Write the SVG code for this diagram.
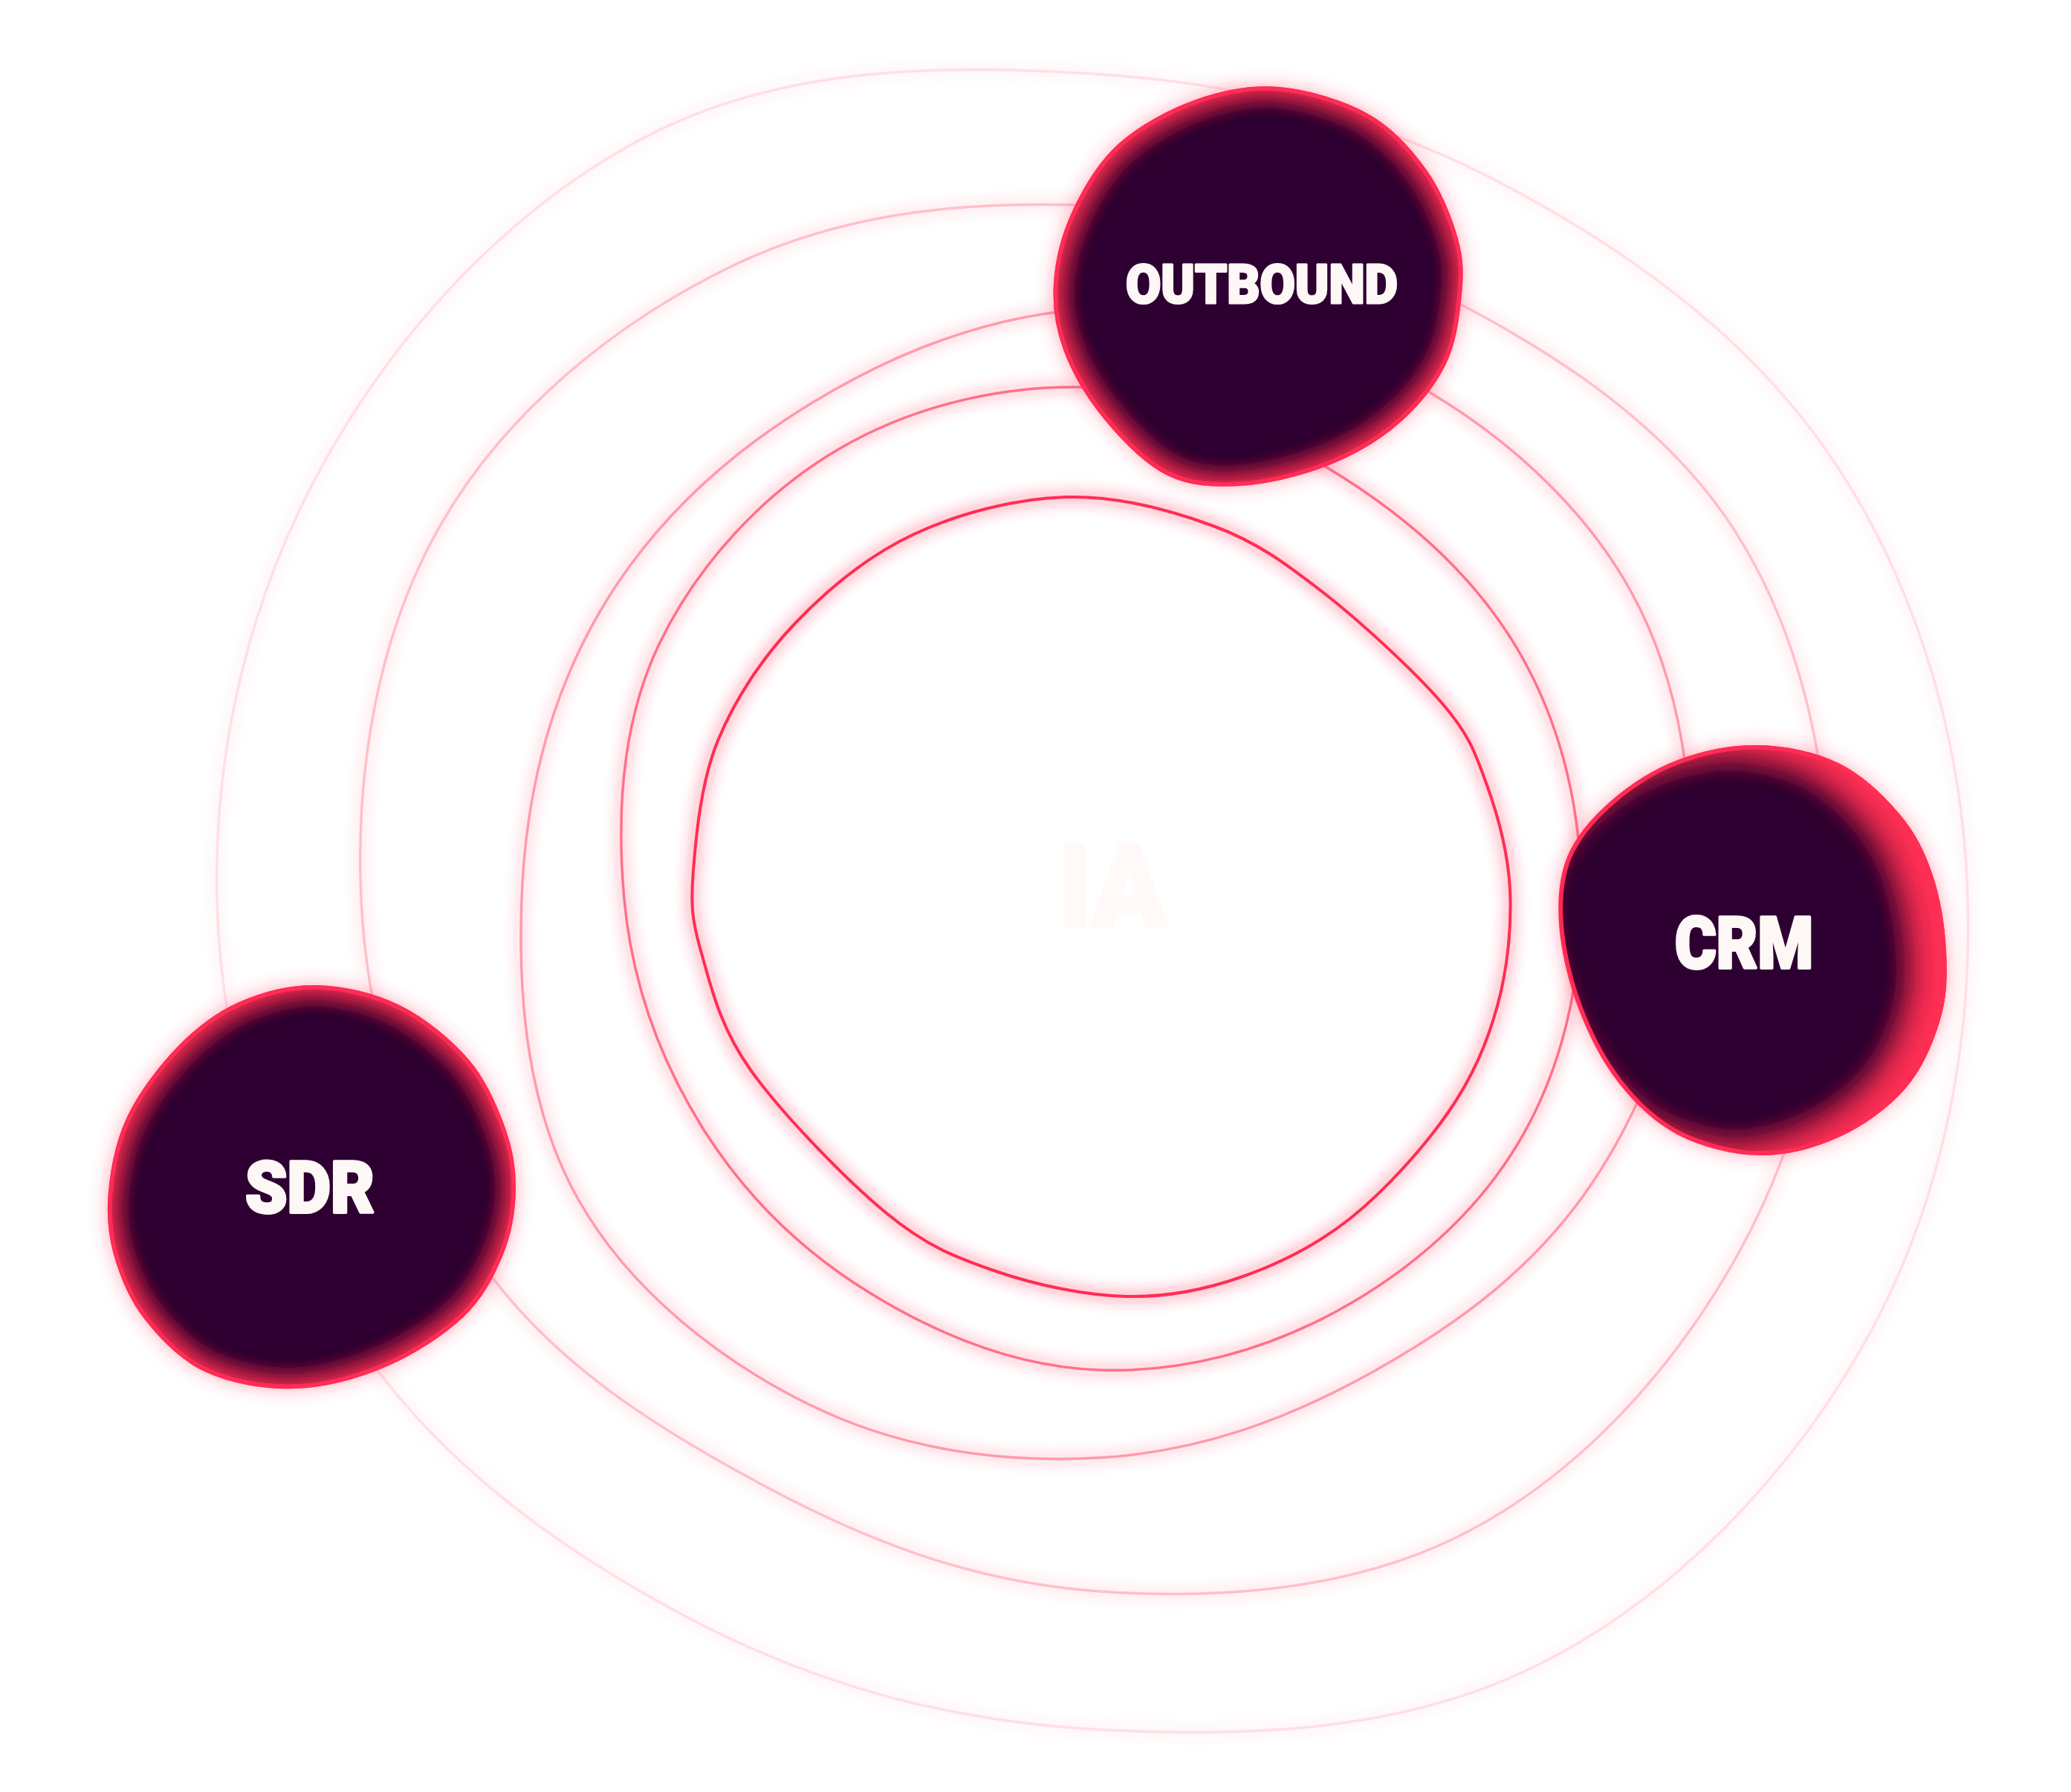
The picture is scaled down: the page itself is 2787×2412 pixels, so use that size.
<svg xmlns="http://www.w3.org/2000/svg" xmlns:xlink="http://www.w3.org/1999/xlink" width="2787" height="2412" viewBox="0 0 2787 2412">
<style>
.line{fill:none;stroke:#ff2d55;stroke-width:3.5}
.halo{fill:none;stroke:#ff2d55;stroke-width:22;stroke-opacity:0.26;filter:url(#blur8)}
.nglow{fill:#ff2d55;opacity:0.5;filter:url(#blur14)}
.nbody{fill:#2d0030;stroke:#ff2d55;stroke-width:6}
.lbl{font-family:Roboto,"Liberation Sans",sans-serif;font-weight:900;fill:#fdf8f6;stroke:#fdf8f6;stroke-width:4;stroke-linejoin:round;text-anchor:middle}
</style>
<defs>
<filter id="blur8" filterUnits="userSpaceOnUse" x="0" y="0" width="2787" height="2412"><feGaussianBlur stdDeviation="8"/></filter>
<filter id="blur14" x="-25%" y="-25%" width="150%" height="150%"><feGaussianBlur stdDeviation="14"/></filter>
<filter id="inner" x="-20%" y="-20%" width="140%" height="140%">
<feMorphology in="SourceAlpha" operator="erode" radius="8" result="er"/>
<feFlood flood-color="#ff2d55" result="f"/>
<feComposite in="f" in2="er" operator="out" result="o"/>
<feGaussianBlur in="o" stdDeviation="14" result="ob"/>
<feComposite in="ob" in2="SourceAlpha" operator="in" result="ig"/>
<feMerge><feMergeNode in="SourceGraphic"/><feMergeNode in="ig"/></feMerge>
</filter>
<filter id="innerR" x="-20%" y="-20%" width="140%" height="140%">
<feMorphology in="SourceAlpha" operator="erode" radius="8" result="er"/>
<feFlood flood-color="#ff2d55" result="f"/>
<feComposite in="f" in2="er" operator="out" result="o"/>
<feOffset in="o" dx="-34" dy="0" result="oo"/>
<feGaussianBlur in="oo" stdDeviation="18" result="ob"/>
<feComposite in="ob" in2="SourceAlpha" operator="in" result="ig"/>
<feMerge><feMergeNode in="SourceGraphic"/><feMergeNode in="ig"/></feMerge>
</filter>
<path id="r1" d="M1435,669 C1502.2,667.2 1575.5,686.7 1633,708 C1690.5,729.3 1728.7,757.2 1780,797 C1831.3,836.8 1904.3,904.2 1941,947 C1977.7,989.8 1984.8,1012.3 2000,1054 C2015.2,1095.7 2029.5,1147 2032,1197 C2034.5,1247 2028.8,1304 2015,1354 C2001.2,1404 1982,1449.3 1949,1497 C1916,1544.7 1863.5,1603 1817,1640 C1770.5,1677 1720.2,1701.5 1670,1719 C1619.8,1736.5 1571,1746.3 1516,1745 C1461,1743.7 1393.8,1729.7 1340,1711 C1286.2,1692.3 1248,1678.2 1193,1633 C1138,1587.8 1051.5,1498.3 1010,1440 C968.5,1381.7 956.8,1327.7 944,1283 C931.2,1238.3 929.3,1219.7 933,1172 C936.7,1124.3 943.3,1052.3 966,997 C988.7,941.7 1025,886.3 1069,840 C1113,793.7 1169,747.5 1230,719 C1291,690.5 1367.8,670.8 1435,669 Z"/>
<path id="r2" d="M2128,1210 C2127.5,1324.7 2102.1,1438.8 2044.6,1536 C1987.1,1633.2 1899.1,1710.1 1800,1764.2 C1700.9,1818.3 1590,1848 1480,1844 C1370,1840 1266.7,1798.9 1173,1741.7 C1079.3,1684.5 1004.1,1611.9 945.7,1518.5 C887.3,1425.1 850.4,1324.2 840,1210 C829.6,1095.8 835.9,973.9 886.8,867.5 C937.7,761.1 1025.9,664.4 1130,603.8 C1234.1,543.2 1361.1,515.1 1480,522 C1598.9,528.9 1707.9,579.6 1807.5,642.8 C1907.1,706 1990.9,782.9 2047.2,882.5 C2103.5,982.1 2128.5,1095.3 2128,1210 Z"/>
<path id="r3" d="M2273,1210 C2263.8,1349.6 2217.2,1480.8 2142.5,1592.5 C2067.8,1704.2 1963.8,1781.7 1847.5,1846.5 C1731.2,1911.3 1613.4,1954.4 1480,1962 C1346.6,1969.6 1210.7,1950.8 1087.5,1889.8 C964.3,1828.8 846.2,1734.4 778.5,1615 C710.8,1495.6 696.8,1349.1 702,1210 C707.2,1070.9 739.2,939.3 808,822 C876.8,704.7 976,612.8 1094,541.4 C1212,470 1341.1,421.1 1480,415 C1618.9,408.9 1760.4,439.8 1886,506.8 C2011.6,573.8 2127.4,673.6 2195.3,797 C2263.2,920.4 2282.2,1070.4 2273,1210 Z"/>
<path id="r4" d="M2462,1210 C2461.3,1382.9 2417.2,1551.8 2331.3,1701.5 C2245.4,1851.2 2121.8,1985.7 1972.5,2063 C1823.2,2140.3 1646.3,2153.4 1480,2142 C1313.7,2130.6 1171.7,2076.9 1025,1998.1 C878.3,1919.3 738,1831.3 643.4,1693 C548.8,1554.7 494.1,1384.3 486,1210 C477.9,1035.7 508.7,849.7 596.7,700 C684.7,550.3 832.4,431.2 987.5,357 C1142.6,282.8 1311.6,269.4 1480,277 C1648.4,284.6 1797.3,323.2 1947.5,400.3 C2097.7,477.4 2245.3,573.9 2335.6,716 C2425.9,858.1 2462.7,1037.1 2462,1210 Z"/>
<path id="r5" d="M2648,1210 C2653.9,1415.5 2611.2,1624.5 2510.5,1805 C2409.8,1985.5 2254.9,2147 2074,2238.8 C1893.1,2330.6 1682,2339.1 1480,2328 C1278,2316.9 1099.6,2269.5 922.5,2175.6 C745.4,2081.7 581.8,1961.9 471.1,1792.5 C360.4,1623.1 297,1417.4 292,1210 C287,1002.6 338.7,792.4 442.5,611 C546.3,429.6 701.4,266.6 883.5,176.9 C1065.6,87.2 1278.3,86.7 1480,100 C1681.7,113.3 1857.5,159.3 2032.5,253 C2207.5,346.7 2368.9,466.6 2476.8,634.5 C2584.7,802.4 2642.1,1004.5 2648,1210 Z"/>
<path id="bOut" d="M1721,120 C1759.3,123.2 1807.3,137.7 1840,156 C1872.7,174.3 1897.2,202.3 1917,230 C1936.8,257.7 1951.2,294.3 1959,322 C1966.8,349.7 1966.7,368.2 1964,396 C1961.3,423.8 1957.3,460 1943,489 C1928.7,518 1904.7,547.3 1878,570 C1851.3,592.7 1818,611.5 1783,625 C1748,638.5 1703.2,649 1668,651 C1632.8,653 1602,651.8 1572,637 C1542,622.2 1511,589.8 1488,562 C1465,534.2 1445.2,500.2 1434,470 C1422.8,439.8 1419,411.8 1421,381 C1423,350.2 1431.7,315.8 1446,285 C1460.3,254.2 1479.7,220.7 1507,196 C1534.3,171.3 1574.3,149.7 1610,137 C1645.7,124.3 1682.7,116.8 1721,120 Z"/>
<path id="bCrm" d="M2366,1006 C2401.8,1006.7 2441.5,1014.5 2473,1030 C2504.5,1045.5 2534.2,1074.2 2555,1099 C2575.8,1123.8 2587.8,1148.7 2598,1179 C2608.2,1209.3 2614.3,1248.8 2616,1281 C2617.7,1313.2 2617,1341.7 2608,1372 C2599,1402.3 2584.5,1437 2562,1463 C2539.5,1489 2505.7,1513.2 2473,1528 C2440.3,1542.8 2401.8,1552.7 2366,1552 C2330.2,1551.3 2289,1540.2 2258,1524 C2227,1507.8 2202,1483.3 2180,1455 C2158,1426.7 2139.2,1389.2 2126,1354 C2112.8,1318.8 2103.3,1277.3 2101,1244 C2098.7,1210.7 2100.7,1181.2 2112,1154 C2123.3,1126.8 2144.7,1102.3 2169,1081 C2193.3,1059.7 2225.2,1038.5 2258,1026 C2290.8,1013.5 2330.2,1005.3 2366,1006 Z"/>
<path id="bSdr" d="M426,1329 C461.8,1329.7 503,1339.2 537,1356 C571,1372.8 606.5,1402.3 630,1430 C653.5,1457.7 667.8,1493.2 678,1522 C688.2,1550.8 691.7,1575.3 691,1603 C690.3,1630.7 685.5,1660.2 674,1688 C662.5,1715.8 648,1745.2 622,1770 C596,1794.8 555.7,1821 518,1837 C480.3,1853 436,1864.8 396,1866 C356,1867.2 311.2,1859.3 278,1844 C244.8,1828.7 217.3,1800 197,1774 C176.7,1748 164,1716.5 156,1688 C148,1659.5 146,1633.7 149,1603 C152,1572.3 158.7,1536 174,1504 C189.3,1472 216.3,1436.3 241,1411 C265.7,1385.7 291.2,1365.7 322,1352 C352.8,1338.3 390.2,1328.3 426,1329 Z"/>
</defs>
<rect width="2787" height="2412" fill="#ffffff"/>
<g id="connectors">
<g id="ring5" opacity="0.15"><use href="#r5" class="halo"/><use href="#r5" class="line"/></g>
<g id="ring4" opacity="0.3"><use href="#r4" class="halo"/><use href="#r4" class="line"/></g>
<g id="ring3" opacity="0.48"><use href="#r3" class="halo"/><use href="#r3" class="line"/></g>
<g id="ring2" opacity="0.68"><use href="#r2" class="halo"/><use href="#r2" class="line"/></g>
<g id="ring1" opacity="1"><use href="#r1" class="halo"/><use href="#r1" class="line" style="stroke-width:4"/></g>
</g>
<g id="node-ia">
<text x="1496.5" y="1248" class="lbl" style="font-size:156px;fill:#fffaf8;stroke:#fffaf8" textLength="147" lengthAdjust="spacingAndGlyphs">IA</text>
</g>
<g id="node-outbound">
<use href="#bOut" class="nglow"/>
<use href="#bOut" class="nbody" filter="url(#inner)"/>
<text x="1698" y="408" class="lbl" style="font-size:72px;stroke-width:3" textLength="366" lengthAdjust="spacingAndGlyphs">OUTBOUND</text>
</g>
<g id="node-crm">
<use href="#bCrm" class="nglow"/>
<use href="#bCrm" class="nbody" filter="url(#innerR)"/>
<text x="2347" y="1303" class="lbl" style="font-size:97px" textLength="186" lengthAdjust="spacingAndGlyphs">CRM</text>
</g>
<g id="node-sdr">
<use href="#bSdr" class="nglow"/>
<use href="#bSdr" class="nbody" filter="url(#inner)"/>
<text x="417" y="1632" class="lbl" style="font-size:97px" textLength="174" lengthAdjust="spacingAndGlyphs">SDR</text>
</g>
</svg>
